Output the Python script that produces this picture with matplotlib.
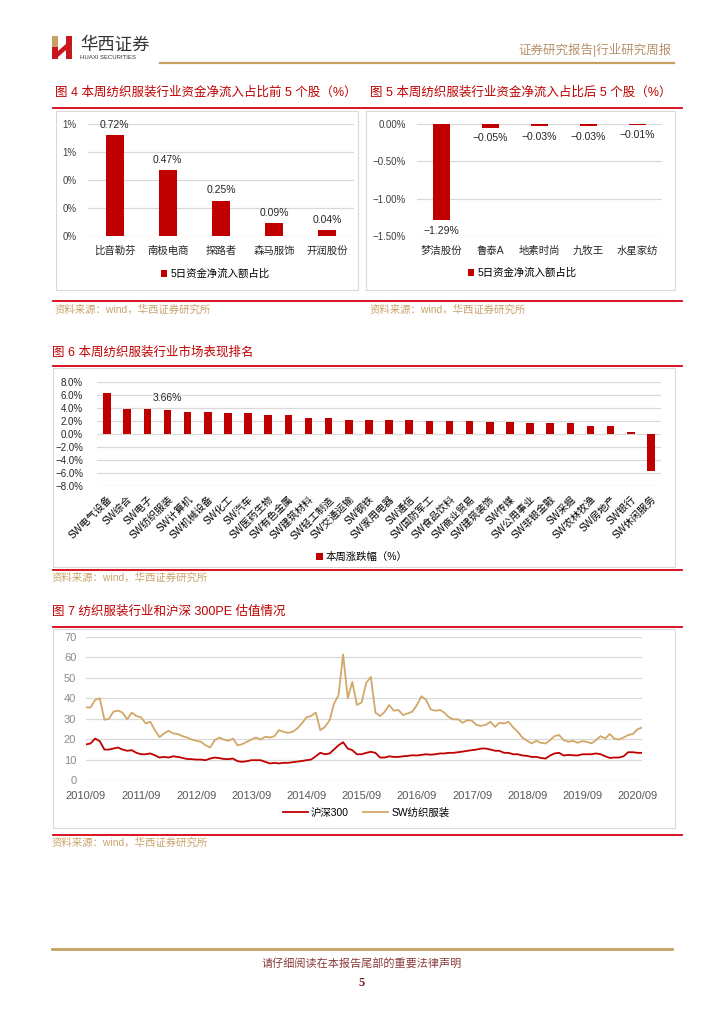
import numpy as np
import pandas as pd
import matplotlib
matplotlib.use('Agg')
import matplotlib.pyplot as plt
from matplotlib.patches import Rectangle, Polygon
from matplotlib.lines import Line2D

plt.rcParams['font.family'] = ['Liberation Sans', 'Noto Sans CJK SC']
plt.rcParams['axes.unicode_minus'] = True

# 图4 资金净流入占比前5
top5_names = ['比音勒芬', '南极电商', '探路者', '森马服饰', '开润股份']
top5_vals = [0.72, 0.47, 0.25, 0.09, 0.04]

# 图5 资金净流入占比后5
bot5_names = ['梦洁股份', '鲁泰A', '地素时尚', '九牧王', '水星家纺']
bot5_vals = [-1.29, -0.05, -0.03, -0.03, -0.01]

# 图6 申万行业本周涨跌幅
sw_names = ['SW电气设备', 'SW综合', 'SW电子', 'SW纺织服装', 'SW计算机', 'SW机械设备',
            'SW化工', 'SW汽车', 'SW医药生物', 'SW有色金属', 'SW建筑材料', 'SW轻工制造',
            'SW交通运输', 'SW钢铁', 'SW家用电器', 'SW通信', 'SW国防军工', 'SW食品饮料',
            'SW商业贸易', 'SW建筑装饰', 'SW传媒', 'SW公用事业', 'SW非银金融', 'SW采掘',
            'SW农林牧渔', 'SW房地产', 'SW银行', 'SW休闲服务']
sw_vals = [6.30, 3.92, 3.82, 3.66, 3.37, 3.32, 3.27, 3.17, 2.96, 2.91, 2.51, 2.41,
           2.21, 2.21, 2.16, 2.16, 2.06, 1.96, 1.96, 1.86, 1.86, 1.71, 1.66, 1.66,
           1.26, 1.16, 0.30, -5.70]

# 图7 PE 月度 (2010/09 - 2020/10)
pe_start = '2010-09-01'
hs300_pe = [17.4, 17.9, 20.3, 19.0,
            14.9, 14.9, 15.4, 15.9, 14.9, 14.3, 14.6, 13.3, 12.6, 12.6, 13.0, 12.1,
            11.0, 11.3, 11.0, 11.6, 11.3, 10.8, 10.3, 10.2, 10.0, 10.0, 9.7, 10.5,
            11.0, 10.7, 10.3, 10.2, 10.5, 9.2, 8.9, 9.2, 9.7, 9.7, 9.7, 8.9,
            8.1, 8.4, 8.1, 8.4, 8.4, 8.7, 9.0, 9.3, 9.7, 10.0, 11.6, 13.3,
            12.6, 13.0, 14.9, 17.0, 18.5, 15.4, 14.6, 12.6, 12.6, 13.3, 13.8, 13.3,
            11.0, 11.0, 11.6, 11.3, 11.3, 11.6, 11.8, 12.1, 12.0, 12.3, 12.6, 12.4,
            12.6, 13.0, 13.0, 13.3, 13.3, 13.6, 13.9, 14.3, 14.6, 14.9, 15.4, 15.4,
            14.9, 14.3, 14.3, 13.3, 13.3, 12.6, 12.6, 12.0, 11.8, 11.3, 11.3, 10.8,
            10.5, 12.0, 13.0, 13.3, 12.0, 12.3, 12.1, 12.0, 12.6, 12.6, 12.6, 13.0,
            12.6, 11.6, 10.8, 11.0, 11.0, 11.6, 13.6, 13.6, 13.3, 13.3]
swfz_pe = [35.6, 35.5, 39.2, 40.0,
           29.5, 30.0, 33.4, 34.0, 33.0, 29.7, 33.0, 31.3, 30.7, 27.7, 28.5, 24.4,
           21.0, 22.8, 24.1, 22.8, 22.5, 21.5, 20.8, 19.8, 19.2, 18.7, 17.0, 15.9,
           19.5, 20.8, 19.8, 19.2, 20.3, 17.0, 17.5, 18.7, 19.8, 20.8, 19.8, 21.2,
           20.8, 21.5, 24.4, 23.6, 23.1, 23.6, 25.2, 27.7, 30.7, 31.3, 33.0, 24.4,
           26.0, 29.3, 37.2, 41.6, 61.5, 40.0, 48.0, 36.7, 38.0, 47.5, 50.5, 33.0,
           31.3, 33.4, 36.7, 33.9, 34.3, 31.8, 32.6, 33.4, 36.7, 41.0, 39.2, 34.6,
           33.9, 34.3, 33.0, 30.7, 29.7, 29.7, 28.0, 29.3, 29.0, 26.9, 26.5, 27.0,
           28.5, 26.0, 28.0, 27.7, 28.5, 25.7, 23.6, 20.8, 19.2, 17.9, 19.2, 18.2,
           17.9, 19.5, 21.5, 22.0, 19.5, 18.7, 19.2, 18.2, 19.0, 18.7, 17.9, 19.5,
           21.5, 20.3, 22.5, 20.3, 19.8, 20.8, 22.0, 22.5, 24.8, 25.7]

RED = '#C00000'
LINE_RED = '#D7000F'
TAN = '#D2A868'
SRC = '#C9A36B'
GRID = '#D9D9D9'
W, H = 724, 1024


def box(x0, y0, x1, y1):
    return [x0 / W, 1 - y1 / H, (x1 - x0) / W, (y1 - y0) / H]


fig = plt.figure(figsize=(W / 100, H / 100), dpi=100)

# page background in pixel coordinates
bg = fig.add_axes([0, 0, 1, 1])
bg.set_xlim(0, W)
bg.set_ylim(H, 0)
bg.axis('off')

# header / logo
bg.add_patch(Rectangle((52, 36), 6, 11, color='#C8A064', lw=0))
bg.add_patch(Rectangle((52, 47), 6, 12, color='#C8161D', lw=0))
bg.add_patch(Rectangle((66, 36), 6, 23, color='#C8161D', lw=0))
bg.add_patch(Polygon([(58, 51), (66, 44), (66, 50), (58, 57)], color='#C8161D', lw=0))
bg.text(80, 45, '华西证券', fontsize=12.5, color='#333333', va='center', ha='left')
bg.text(80, 57.5, 'HUAXI SECURITIES', fontsize=4.3, color='#333333', va='center', ha='left')
bg.text(672, 50, '证券研究报告|行业研究周报', fontsize=9, color='#B8916A', va='center', ha='right')
bg.plot([160, 674], [63, 63], color='#C8A064', lw=1.6)

# section frames
for (x0, y0, x1, y1) in [(56, 111, 358, 290), (366, 111, 675, 290),
                         (53, 368, 675, 567), (53, 629, 675, 828)]:
    bg.add_patch(Rectangle((x0, y0), x1 - x0, y1 - y0, fill=False, ec=GRID, lw=0.8))

titles = [(55, 93, '图 4 本周纺织服装行业资金净流入占比前 5 个股（%）'),
          (370, 93, '图 5 本周纺织服装行业资金净流入占比后 5 个股（%）'),
          (52, 352, '图 6 本周纺织服装行业市场表现排名'),
          (52, 611, '图 7 纺织服装行业和沪深 300PE 估值情况')]
for x, y, t in titles:
    bg.text(x, y, t, fontsize=9, color=RED, va='center', ha='left')

for y in [108, 301, 366, 570, 627, 835]:
    bg.plot([53, 682], [y, y], color=LINE_RED, lw=1.3)

src = '资料来源：wind，华西证券研究所'
for x, y in [(55, 310), (370, 310), (52, 578), (52, 843)]:
    bg.text(x, y, src, fontsize=7.5, color=SRC, va='center', ha='left')

# footer
bg.plot([52, 672], [949, 949], color='#C8A064', lw=2)
bg.text(362, 963, '请仔细阅读在本报告尾部的重要法律声明', fontsize=8, color='#8B3A3A',
        va='center', ha='center')
bg.text(362, 983, '5', fontsize=9, color='#7A1F1F', va='center', ha='center',
        family='Liberation Serif', weight='bold')


def style(ax):
    for s in ax.spines.values():
        s.set_visible(False)
    ax.tick_params(length=0)
    ax.yaxis.grid(True, color=GRID, lw=0.9)
    ax.set_axisbelow(True)
    ax.patch.set_alpha(0)


# 图4
ax4 = fig.add_axes(box(88, 124, 354, 236))
x4 = np.arange(len(top5_names))
b4 = ax4.bar(x4, top5_vals, width=0.34, color=RED, label='5日资金净流入额占比')
ax4.set_xlim(-0.5, len(top5_names) - 0.5)
ax4.set_ylim(0, 0.8)
ax4.set_yticks([0, 0.2, 0.4, 0.6, 0.8])
ax4.set_yticklabels(['{:.0f}%'.format(v) for v in [0, 0.2, 0.4, 0.6, 0.8]], fontsize=7, color='#404040')
ax4.set_xticks(x4)
ax4.set_xticklabels(top5_names, fontsize=7.5, color='#262626')
style(ax4)
ax4.tick_params(axis='y', pad=8)
ax4.tick_params(axis='x', pad=7)
for i, v in enumerate(top5_vals):
    ax4.annotate('{:.2f}%'.format(v), (i, v), xytext=(0, 4), textcoords='offset points',
                 ha='center', va='bottom', fontsize=7.5, color='#262626')
ax4.legend(loc='center', bbox_to_anchor=(215 / W, 1 - 274 / H), bbox_transform=fig.transFigure,
           frameon=False, fontsize=7.5, handlelength=0.6, handleheight=0.6, handletextpad=0.3)

# 图5
ax5 = fig.add_axes(box(417, 124, 662, 236))
x5 = np.arange(len(bot5_names))
ax5.bar(x5, bot5_vals, width=0.34, color=RED, label='5日资金净流入额占比')
ax5.set_xlim(-0.5, len(bot5_names) - 0.5)
ax5.set_ylim(-1.5, 0)
ax5.set_yticks([-1.5, -1.0, -0.5, 0])
ax5.set_yticklabels(['{:.2f}%'.format(v).replace('-', '\u2212') for v in [-1.5, -1.0, -0.5, 0]],
                    fontsize=7, color='#404040')
ax5.set_xticks(x5)
ax5.set_xticklabels(bot5_names, fontsize=7.5, color='#262626')
style(ax5)
ax5.tick_params(axis='y', pad=8)
ax5.tick_params(axis='x', pad=7)
for i, v in enumerate(bot5_vals):
    ax5.annotate('{:.2f}%'.format(v).replace('-', '\u2212'), (i, v), xytext=(0, -4),
                 textcoords='offset points', ha='center', va='top', fontsize=7.5, color='#262626')
ax5.legend(loc='center', bbox_to_anchor=(522 / W, 1 - 273 / H), bbox_transform=fig.transFigure,
           frameon=False, fontsize=7.5, handlelength=0.6, handleheight=0.6, handletextpad=0.3)

# 图6
ax6 = fig.add_axes(box(97, 382, 661, 486))
x6 = np.arange(len(sw_names))
ax6.bar(x6, sw_vals, width=0.37, color=RED, label='本周涨跌幅（%）')
ax6.set_xlim(-0.5, len(sw_names) - 0.5)
ax6.set_ylim(-8, 8)
yt6 = np.arange(-8, 9, 2)
ax6.set_yticks(yt6)
ax6.set_yticklabels(['{:.1f}%'.format(v).replace('-', '\u2212') for v in yt6], fontsize=7, color='#262626')
ax6.set_xticks(x6)
ax6.set_xticklabels(sw_names, fontsize=7.2, rotation=45, ha='right', rotation_mode='anchor',
                    color='#000000')
style(ax6)
ax6.tick_params(axis='y', pad=10)
ax6.tick_params(axis='x', pad=6)
k = sw_names.index('SW纺织服装')
ax6.annotate('{:.2f}%'.format(sw_vals[k]), (k, sw_vals[k]), xytext=(0, 5), textcoords='offset points',
             ha='center', va='bottom', fontsize=7.5, color='#262626')
ax6.legend(loc='center', bbox_to_anchor=(362 / W, 1 - 557 / H), bbox_transform=fig.transFigure,
           frameon=False, fontsize=7.5, handlelength=0.6, handleheight=0.6, handletextpad=0.3)

# 图7
ax7 = fig.add_axes(box(86, 637, 642, 780))
dates = pd.date_range(pe_start, periods=len(hs300_pe), freq='MS')
ax7.plot(dates, hs300_pe, color=RED, lw=1.3, label='沪深300')
ax7.plot(dates, swfz_pe, color=TAN, lw=1.3, label='SW纺织服装')
ax7.set_xlim(dates[0], dates[-1])
ax7.set_ylim(0, 70)
ax7.set_yticks(range(0, 71, 10))
ax7.tick_params(axis='y', labelsize=8, labelcolor='#8C8C8C', pad=7)
xt = pd.date_range(pe_start, '2020-09-01', freq='12MS')
ax7.set_xticks(xt)
ax7.set_xticklabels([d.strftime('%Y/%m') for d in xt], fontsize=8, color='#595959')
style(ax7)
ax7.tick_params(axis='x', pad=8)
ax7.legend(loc='center', bbox_to_anchor=(366 / W, 1 - 813 / H), bbox_transform=fig.transFigure,
           frameon=False, fontsize=7.5, ncol=2, handlelength=2.4, columnspacing=1.4,
           handletextpad=0.3)

fig.savefig('out.png', dpi=100)
